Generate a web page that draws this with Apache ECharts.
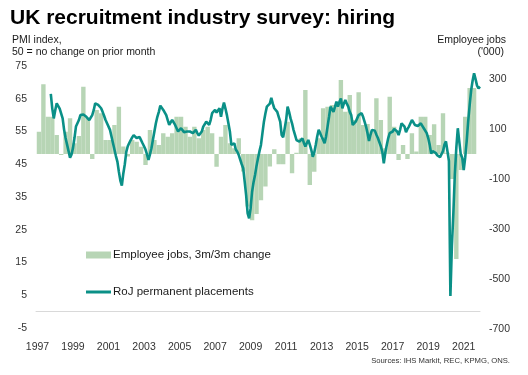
<!DOCTYPE html>
<html><head><meta charset="utf-8">
<script src="https://cdn.jsdelivr.net/npm/echarts@6/dist/echarts.min.js"></script>
<style>html,body{margin:0;padding:0;background:#fff}#c{width:528px;height:375px}</style>
</head><body><div id="c"></div>
<script>
// RoJ permanent placements index, monthly, from Oct 1997 (one row per year, Jan..Dec)
const placements = {
  1997: [null,null,null,null,null,null,null,null,null,66.5,62,59],
  1998: [61.5,63.6,63,62,62.3,59,55.5,53,51,49,47,48],
  1999: [50,53,56.5,57.5,58.5,60,60,60.2,59.8,59.5,59,58.5],
  2000: [59,60,61.5,63.6,63.5,63.1,62.8,62.1,61,59.8,58.5,57.5],
  2001: [57,55.5,53.5,51.5,49.5,47.5,45.8,42.7,40,38.5,42.2,45],
  2002: [48.8,50.5,51.5,52.4,53.2,53.9,53.5,53,52.9,53.3,53,51.4],
  2003: [50.5,49.5,48,46.3,48,49.9,52.5,55,57.5,59.5,61,62.9],
  2004: [62.5,61.6,61,60,58.5,57,57.8,58.5,57.8,57,56,55],
  2005: [55.5,56,55.5,54.8,54.5,55,55.5,55,54.8,54.5,55,55.5],
  2006: [54.5,53.8,53.4,55,56.5,57.2,58,57.5,57,58.5,60.6,61],
  2007: [61.6,60.8,60.3,62.1,59.5,62,63.8,62,60,57.5,55,50.9],
  2008: [51.2,51.4,49.5,48.8,47.8,47.3,45,43.8,39.7,35.5,30,28.5],
  2009: [31.5,36.6,39.5,41.7,44.5,46.8,49,50.9,54.5,58,60.5,62.6],
  2010: [62.3,63.5,65.3,63.5,62.1,61.5,61,59.5,58,53.9,53.2,52.9],
  2011: [58.5,62.6,61,59,57.5,55.5,54,52.4,52.2,51.9,52.3,52.9],
  2012: [51.5,50.4,51.5,52.4,51,49.4,47.3,48.5,50.9,53.5,55.5,54.5],
  2013: [53.4,52.5,51.4,53.5,56.5,59.5,62.6,62,61,62.5,64.1,62.6],
  2014: [64,65.1,62.1,63.5,64.6,63.5,62.6,61,60,57,57.5,58],
  2015: [59,60,60.3,60.6,59.5,58,56.5,54.5,52.1,54,55.5,55.3],
  2016: [55.2,54,53,52.4,50.5,48.8,45.3,48.5,50.9,53,54.5,54],
  2017: [55,55.8,56.2,55,53.9,55.5,57.5,58,56.5,54.8,55.8,56.5],
  2018: [57.5,58.5,57.8,57,56.8,56.7,57,57.5,57,56,55.5,54.5],
  2019: [53,51,48.3,49,49.4,48.5,47.8,47.5,47.2,47,49,51],
  2020: [52,52.4,46,4.8,20,30,42,50,56,52,48,47],
  2021: [43.2,47,52,58,63,67.5,70.5,72.8,71,69,68.2,68.7]
};
// Employee jobs, 3m/3m change ('000), one value per quarter from 1997 Q1
const employeeJobs = [
  89,279,149,149, 76,-4,89,143, 43,72,269,143, -20,176,163,56,
  56,116,189,30, -10,56,49,29, -44,96,56,36, 83,69,83,149,
  149,109,69,109, 63,96,109,83, -51,69,116,43, 23,63,-70,-210,
  -265,-240,-185,-130, -50,19,-41,-41, 129,-77,5,63, 256,-124,-71,63,
  183,189,196,189, 296,169,236,136, 247,116,120,89, 223,136,23,229,
  109,-24,36,-20, 83,10,149,149, 76,119,36,163, 5,-100,-420,-64,
  149,264,264
];
const yearLabels = ['1997','1999','2001','2003','2005','2007','2009','2011','2013','2015','2017','2019','2021'];

// month categories, Dec 1996 .. Dec 2021
const months = ['1996-12'];
for (let y = 1997; y <= 2021; y++) for (let m = 1; m <= 12; m++) months.push(y + '-' + String(m).padStart(2,'0'));
const lineData = [null];
for (let y = 1997; y <= 2021; y++) lineData.push(...placements[y]);
const barData = months.map(() => null);
employeeJobs.forEach((v, q) => { barData[3*q + 2] = v; });

const FONT = 'Liberation Sans, Arial, sans-serif';
const chart = echarts.init(document.getElementById('c'), null, {renderer: 'canvas'});
chart.setOption({
  animation: false,
  backgroundColor: '#fff',
  textStyle: {fontFamily: FONT},
  title: {text: 'UK recruitment industry survey: hiring', left: 5, top: 3,
    textStyle: {fontFamily: FONT, fontSize: 21, fontWeight: 'bold', color: '#000'}},
  graphic: [
    {type: 'text', left: 12, top: 35, style: {text: 'PMI index,', font: '10.5px ' + FONT, fill: '#1a1a1a'}},
    {type: 'text', left: 12, top: 47, style: {text: '50 = no change on prior month', font: '10.5px ' + FONT, fill: '#1a1a1a'}},
    {type: 'text', right: 22, top: 35, style: {text: 'Employee jobs', font: '10.5px ' + FONT, fill: '#1a1a1a', align: 'right'}},
    {type: 'text', right: 24, top: 47, style: {text: "('000)", font: '10.5px ' + FONT, fill: '#1a1a1a', align: 'right'}},
    {type: 'text', right: 18, top: 357, style: {text: 'Sources: IHS Markit, REC, KPMG, ONS.', font: '7.7px ' + FONT, fill: '#333'}}
  ],
  legend: [
    {data: ['Employee jobs, 3m/3m change'], left: 81, top: 244, icon: 'rect', itemWidth: 25, itemHeight: 7,
      textStyle: {fontFamily: FONT, fontSize: 11.5, color: '#1a1a1a', padding: [0,0,0,-3]}},
    {data: ['RoJ permanent placements'], left: 81, top: 281, icon: 'rect', itemWidth: 25, itemHeight: 3,
      textStyle: {fontFamily: FONT, fontSize: 11.5, color: '#1a1a1a', padding: [0,0,0,-3]}}
  ],
  grid: [
    {left: 36, right: 48, top: 66, height: 262},
    {left: 36, right: 48, top: 79, height: 250}
  ],
  xAxis: [
    {type: 'category', gridIndex: 0, data: months, boundaryGap: false,
      axisLine: {onZero: true, lineStyle: {color: '#d9d9d9', width: 1}},
      axisTick: {show: false},
      axisLabel: {interval: (i, v) => yearLabels.includes(v.slice(0,4)) && v.slice(5) === '01',
        formatter: v => v.slice(0,4), margin: 14, fontSize: 10.5, color: '#333', fontFamily: FONT},
      splitLine: {show: false}},
    {type: 'category', gridIndex: 1, data: months, boundaryGap: false, show: false}
  ],
  yAxis: [
    {type: 'value', gridIndex: 0, min: -5, max: 75, interval: 10, position: 'left',
      axisLine: {show: false}, axisTick: {show: false}, splitLine: {show: false},
      axisLabel: {margin: 9, fontSize: 10.5, color: '#333', fontFamily: FONT}},
    {type: 'value', gridIndex: 1, min: -700, max: 300, interval: 200, position: 'right',
      axisLine: {show: false}, axisTick: {show: false}, splitLine: {show: false},
      axisLabel: {margin: 9, fontSize: 10.5, color: '#333', fontFamily: FONT}}
  ],
  series: [
    {name: 'Employee jobs, 3m/3m change', type: 'bar', xAxisIndex: 1, yAxisIndex: 1,
      data: barData, barWidth: 4.4, itemStyle: {color: '#b7d5b5'}, z: 1},
    {name: 'RoJ permanent placements', type: 'line', xAxisIndex: 0, yAxisIndex: 0,
      data: lineData, showSymbol: false, symbol: 'none', connectNulls: false,
      lineStyle: {color: '#0a9087', width: 2.6}, itemStyle: {color: '#0a9087'}, z: 3}
  ]
});
</script></body></html>
